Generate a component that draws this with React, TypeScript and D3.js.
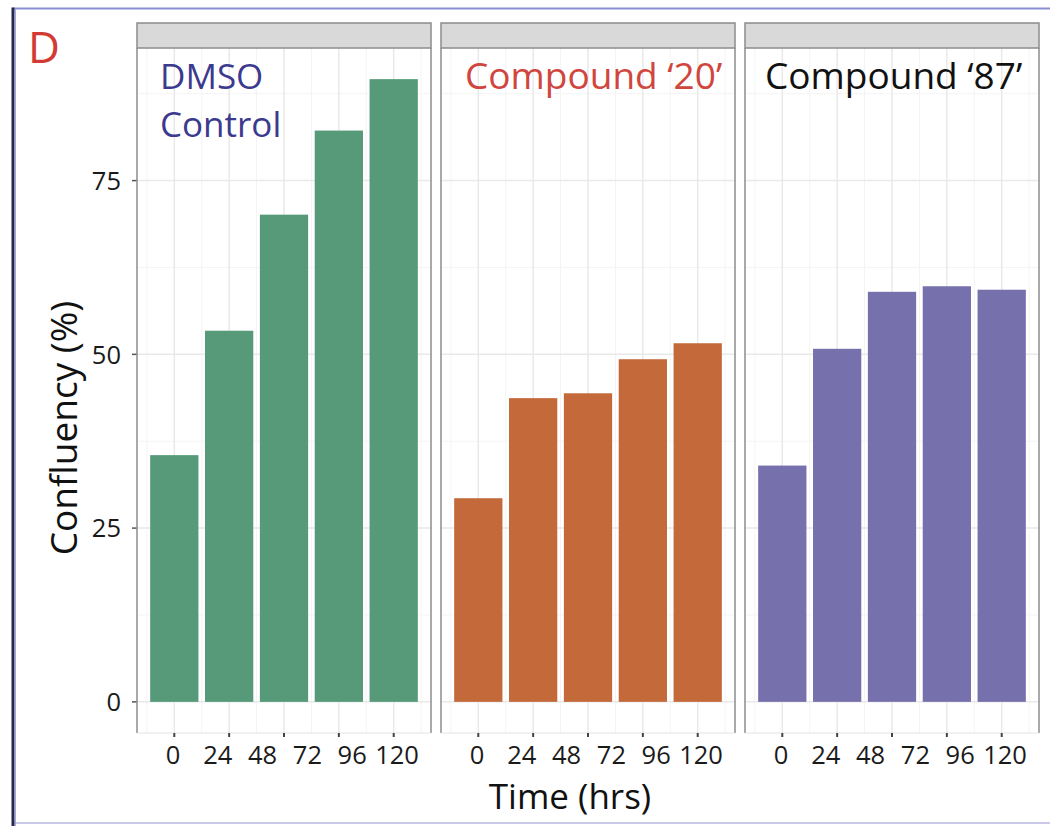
import React from "react";
import * as d3 from "d3";

// Confluency (%) per time point for each treatment
const panelNames = ["DMSO Control", "Compound ‘20’", "Compound ‘87’"];
const panelTitleLines = [["DMSO", "Control"], ["Compound ‘20’"], ["Compound ‘87’"]];
const dmsoValues = [35.5, 53.4, 70.1, 82.2, 89.6];
const compound20Values = [29.3, 43.7, 44.4, 49.3, 51.6];
const compound87Values = [34.0, 50.8, 59.0, 59.8, 59.3];
const timeTickLabels = ["0", "24", "48", "72", "96", "120"];
const yTicks = [0, 25, 50, 75];

const seriesValues = [dmsoValues, compound20Values, compound87Values];
const barColors = ["#569a7a", "#c3693a", "#7670ad"];
const titleColors = ["#3b3a8e", "#d0463e", "#111111"];
const titleSizes = [35, 37, 37];

const W = 1050;
const H = 826;
const FONT = "'Open Sans', 'Noto Sans', sans-serif";

const panelLefts = [137, 441, 745];
const panelWidth = 294;
const stripTop = 23;
const panelTop = 48;
const panelBottom = 733;

export default function App() {
  const maxVal = d3.max(seriesValues.flat()) as number;
  const pad = maxVal * 0.05;
  const y = d3.scaleLinear().domain([-pad, maxVal + pad]).range([panelBottom, panelTop]);
  const yMinor = yTicks.map((t) => t + 12.5);

  const nBars = dmsoValues.length;
  const xIdx = d3.scaleLinear().domain([-0.68, nBars - 1 + 0.68]).range([0, panelWidth]);
  const barW = xIdx(0.44) - xIdx(-0.44);
  const xMinor = d3.range(-0.5, nBars, 1);
  const labelPos = d3.scalePoint<string>().domain(timeTickLabels).range([36, 260]);

  return (
    <svg
      width={W}
      height={H}
      style={{ position: "absolute", left: 0, top: 0, display: "block", background: "#fff" }}
      fontFamily={FONT}
    >
      {/* figure frame */}
      <line x1={13} x2={W} y1={8.5} y2={8.5} stroke="#8a8fd4" strokeWidth={2} />
      <line x1={13} x2={W} y1={823} y2={823} stroke="#cacae8" strokeWidth={2} />
      <line x1={13} x2={13} y1={7.5} y2={H} stroke="#25284f" strokeWidth={3} />
      <line x1={15.5} x2={15.5} y1={9} y2={H} stroke="#a3a6dc" strokeWidth={1} />

      <text x={28} y={63} fontSize={44} fill="#d23b33">D</text>

      {/* y axis */}
      {yTicks.map((t) => (
        <g key={"yt" + t}>
          <line x1={132} x2={137} y1={y(t)} y2={y(t)} stroke="#555" strokeWidth={1.5} />
          <text x={121} y={y(t)} dy="0.36em" textAnchor="end" fontSize={25.5} fill="#1a1a1a">
            {t}
          </text>
        </g>
      ))}
      <text
        transform={`translate(77, 428) rotate(-90)`}
        textAnchor="middle"
        fontSize={37}
        fill="#111"
      >
        Confluency (%)
      </text>

      {seriesValues.map((vals, p) => {
        const left = panelLefts[p];
        return (
          <g key={panelNames[p]} transform={`translate(${left},0)`}>
            <rect x={0} y={panelTop} width={panelWidth} height={panelBottom - panelTop} fill="#fff" />
            {/* grid */}
            {yMinor.map((t) => (
              <line key={"ym" + t} x1={0} x2={panelWidth} y1={y(t)} y2={y(t)} stroke="#f4f4f4" strokeWidth={1} />
            ))}
            {xMinor.map((i) => (
              <line key={"xm" + i} x1={xIdx(i)} x2={xIdx(i)} y1={panelTop} y2={panelBottom} stroke="#f4f4f4" strokeWidth={1} />
            ))}
            {yTicks.map((t) => (
              <line key={"yg" + t} x1={0} x2={panelWidth} y1={y(t)} y2={y(t)} stroke="#e9e9e9" strokeWidth={1.5} />
            ))}
            {vals.map((_, i) => (
              <line key={"xg" + i} x1={xIdx(i)} x2={xIdx(i)} y1={panelTop} y2={panelBottom} stroke="#e9e9e9" strokeWidth={1.5} />
            ))}
            {/* bars */}
            {vals.map((v, i) => (
              <rect
                key={"b" + i}
                x={xIdx(i) - barW / 2}
                y={y(v)}
                width={barW}
                height={y(0) - y(v)}
                fill={barColors[p]}
              />
            ))}
            {/* panel title */}
            {panelTitleLines[p].map((line, li) => (
              <text
                key={"t" + li}
                x={p === 0 ? 23 : p === 1 ? 24 : 20}
                y={89 + li * 48}
                fontSize={titleSizes[p]}
                fill={titleColors[p]}
              >
                {line}
              </text>
            ))}
            {/* strip */}
            <rect x={0} y={stripTop} width={panelWidth} height={panelTop - stripTop} fill="#d9d9d9" stroke="#8c8c8c" strokeWidth={1.5} />
            {/* border */}
            <line x1={0} x2={0} y1={panelTop} y2={panelBottom} stroke="#8c8c8c" strokeWidth={1.5} />
            <line x1={panelWidth} x2={panelWidth} y1={panelTop} y2={panelBottom} stroke="#8c8c8c" strokeWidth={1.5} />
            <line x1={0} x2={panelWidth} y1={panelBottom} y2={panelBottom} stroke="#e2e2e2" strokeWidth={1} />
            {/* x ticks */}
            {vals.map((_, i) => (
              <line key={"xt" + i} x1={xIdx(i)} x2={xIdx(i)} y1={panelBottom} y2={panelBottom + 4} stroke="#444" strokeWidth={2} />
            ))}
            {timeTickLabels.map((lab) => (
              <text key={"xl" + lab} x={labelPos(lab)} y={764} textAnchor="middle" fontSize={25.5} fill="#1a1a1a">
                {lab}
              </text>
            ))}
          </g>
        );
      })}

      <text x={570} y={809} textAnchor="middle" fontSize={35} fill="#111">
        Time (hrs)
      </text>
    </svg>
  );
}
